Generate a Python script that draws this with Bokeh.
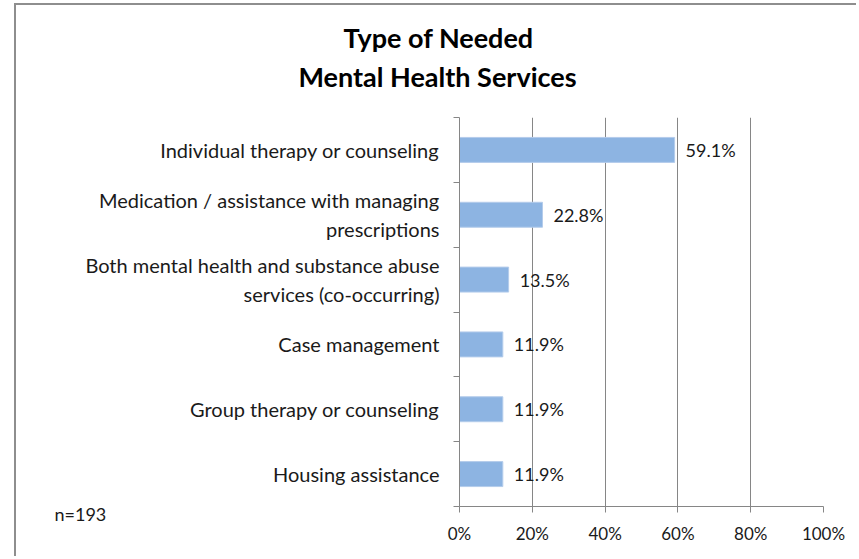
from bokeh.plotting import figure
from bokeh.models import Range1d, FixedTicker, Title, ColumnDataSource
from bokeh.core.properties import value
from bokeh.embed import file_html
from bokeh.resources import INLINE

# ---- data ----
categories = [
    "Individual therapy or counseling",
    "Medication / assistance with managing\nprescriptions",
    "Both mental health and substance abuse\nservices (co-occurring)",
    "Case management",
    "Group therapy or counseling",
    "Housing assistance",
]
values = [59.1, 22.8, 13.5, 11.9, 11.9, 11.9]
x_ticks = [0, 20, 40, 60, 80, 100]
x_tick_labels = ["0%", "20%", "40%", "60%", "80%", "100%"]
title_lines = ["Type of Needed", "Mental Health Services"]
note = "n=193"

FONT = "Lato"
W, H = 842, 553
FL, FT, FR, FB = 443, 112, 807, 501   # frame edges in canvas px
positions = list(range(1, len(categories) + 1))
labels = [f"{v:.1f}%" for v in values]

src = ColumnDataSource(dict(y=positions, v=values, lab=labels))

p = figure(width=W, height=H, output_backend="svg", toolbar_location=None,
           x_range=Range1d(0, 100), y_range=Range1d(len(categories) + 0.5, 0.5),
           min_border_left=FL, min_border_right=W - FR,
           min_border_top=FT, min_border_bottom=H - FB)
p.styles = {"margin-left": "14px", "margin-top": "3px",
            "border-left": "2px solid #8e8e8e", "border-top": "2px solid #8e8e8e"}
p.outline_line_color = None
p.background_fill_color = "white"
p.border_fill_color = "white"

p.hbar(y="y", right="v", left=0, height=0.385, source=src,
       fill_color="#8DB4E2", line_color="#B4CCEB", line_width=1)

p.text(x="v", y="y", text="lab", source=src, x_offset=11,
       text_baseline="middle", text_align="left",
       text_font=value(FONT), text_font_size="18px", text_color="#1a1a1a")

# x axis
xa = p.xaxis[0]
xa.ticker = FixedTicker(ticks=x_ticks, minor_ticks=[])
xa.major_label_overrides = {t: l for t, l in zip(x_ticks, x_tick_labels)}
xa.axis_line_color = "#868686"
xa.major_tick_line_color = "#868686"
xa.major_tick_out = 6
xa.major_tick_in = 0
xa.minor_tick_line_color = None
xa.major_label_standoff = 10
xa.major_label_text_font = FONT
xa.major_label_text_font_size = "17px"
xa.major_label_text_color = "#1a1a1a"

# y axis
ya = p.yaxis[0]
ya.ticker = FixedTicker(ticks=positions,
                        minor_ticks=[i + 0.5 for i in range(len(categories) + 1)])
ya.major_label_overrides = {pos: c for pos, c in zip(positions, categories)}
ya.axis_line_color = "#868686"
ya.major_tick_line_color = None
ya.major_tick_out = 0
ya.major_tick_in = 0
ya.minor_tick_line_color = "#868686"
ya.minor_tick_out = 6
ya.minor_tick_in = 0
ya.major_label_standoff = 14
ya.major_label_text_font = FONT
ya.major_label_text_font_size = "20px"
ya.major_label_text_color = "#1a1a1a"

p.ygrid.grid_line_color = None
p.xgrid.grid_line_color = "#868686"
p.xgrid.ticker = FixedTicker(ticks=x_ticks[1:])

# title: titles added later stack further from the frame
p.add_layout(Title(text=" ", standoff=17, text_font_size="1px"), "above")  # spacer
for txt, off, stand in zip(reversed(title_lines), [-161, -116], [9, 0]):
    p.add_layout(Title(text=txt, align="left", offset=off, standoff=stand,
                       text_font=FONT, text_font_style="bold",
                       text_font_size="27px", text_color="#000000"), "above")

# sample-size note: outermost title, pulled down to the lower-left corner
p.add_layout(Title(text=note, align="left", offset=-405, standoff=-1012,
                   text_font=FONT, text_font_style="normal",
                   text_font_size="18px", text_color="#1a1a1a"), "above")

open("out.html", "w").write(file_html(p, INLINE))
